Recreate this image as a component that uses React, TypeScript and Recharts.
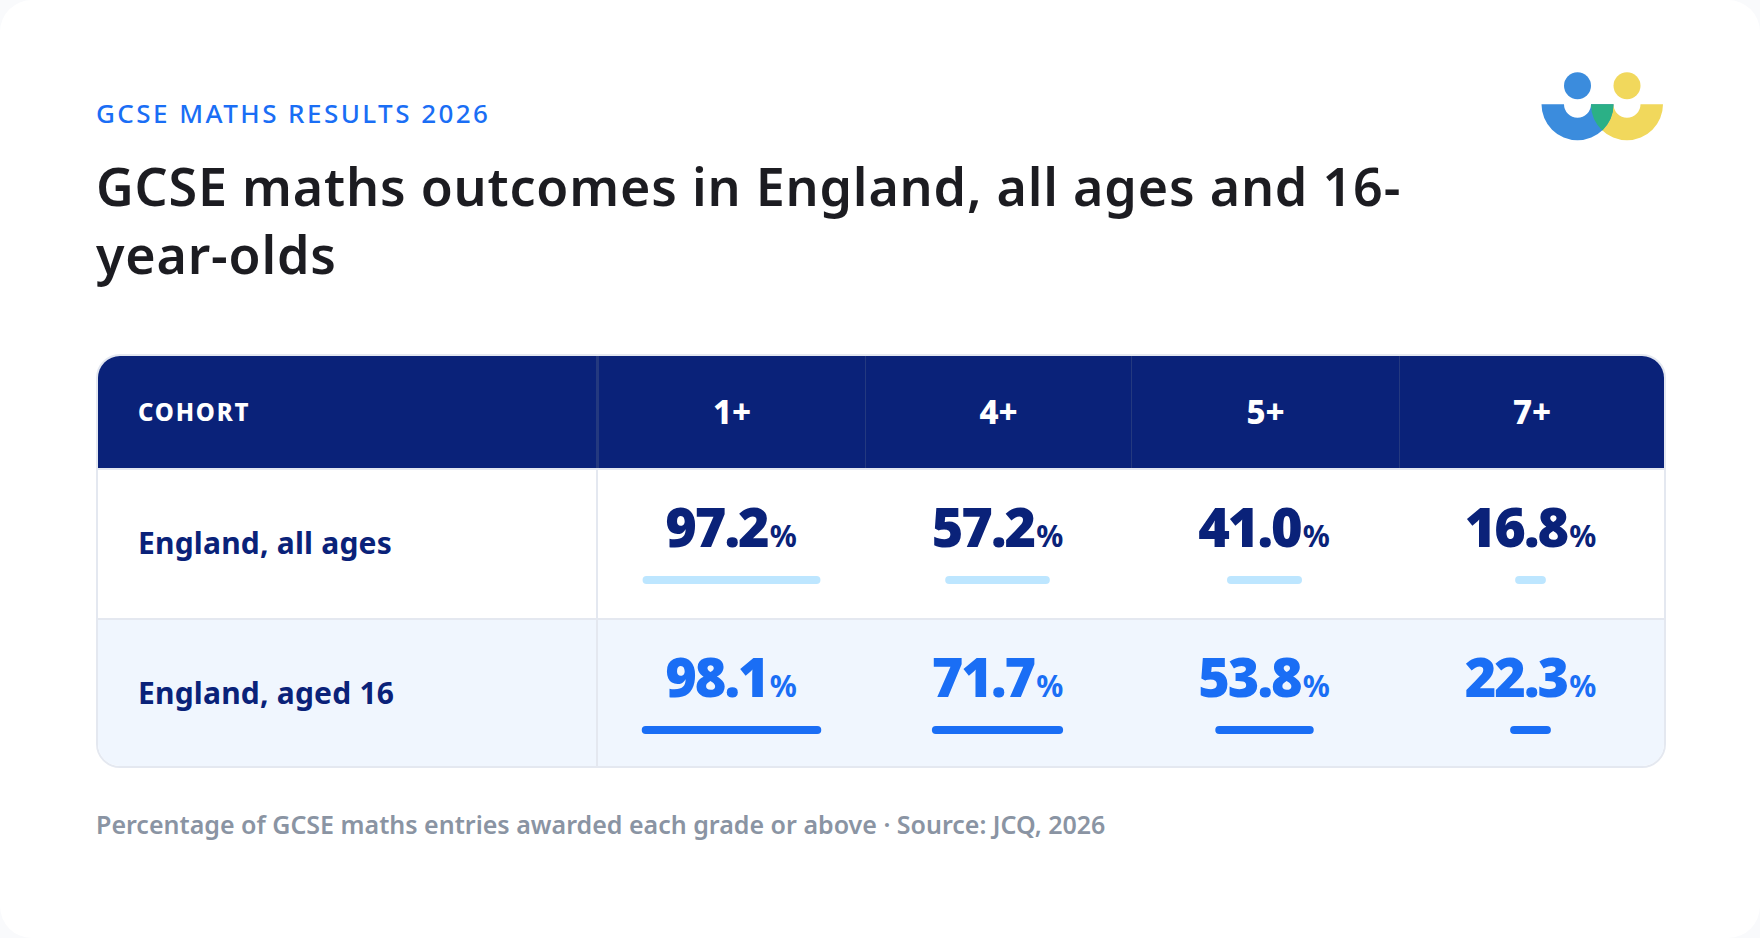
import React from 'react';
import { BarChart, Bar, XAxis, YAxis } from 'recharts';

const grades = ['1+', '4+', '5+', '7+'];
const allAges = [97.2, 57.2, 41.0, 16.8];
const aged16 = [98.1, 71.7, 53.8, 22.3];

const rows = [
  { label: 'England, all ages', values: allAges, text: '#0a2279', bar: '#bde6ff', bg: '#ffffff' },
  { label: 'England, aged 16', values: aged16, text: '#1a6ef5', bar: '#1a6ef5', bg: '#f0f6fe' },
];

const font = '"Noto Sans", Lato, sans-serif';
const border = '#e4e8f0';
const headWidths = [501, 267, 266, 268, 264];
const bodyWidths = [500, 266, 267, 266, 267];

// half-ring of the logo, opening upwards
const halfRing = (cx: number, cy: number, R: number, r: number) =>
  `M${cx - R} ${cy}A${R} ${R} 0 0 0 ${cx + R} ${cy}L${cx + r} ${cy}A${r} ${r} 0 0 1 ${cx - r} ${cy}Z`;

// centred bar, drawn as a range around the middle of a 0-100 axis
const CellBar = ({ value, color }: { value: number; color: string }) => {
  const data = [{ name: 'v', range: [50 - value / 2, 50 + value / 2] }];
  return (
    <BarChart
      width={183}
      height={8}
      layout="vertical"
      data={data}
      margin={{ top: 0, right: 0, bottom: 0, left: 0 }}
      barCategoryGap={0}
    >
      <XAxis type="number" domain={[0, 100]} hide />
      <YAxis type="category" dataKey="name" hide />
      <Bar dataKey="range" fill={color} radius={4} isAnimationActive={false} />
    </BarChart>
  );
};

const App = () => {
  return (
    <div
      style={{
        position: 'absolute',
        left: 0,
        top: 0,
        width: 1760,
        height: 938,
        background: '#f9fafc',
        overflow: 'hidden',
        fontFamily: font,
      }}
    >
      <div style={{ position: 'absolute', left: 0, top: 0, width: 1760, height: 938, background: '#ffffff', borderRadius: 32 }} />

      <div style={{ position: 'absolute', left: 96, top: 96, fontSize: 26, fontWeight: 550, color: '#1a6ef5', letterSpacing: 2.45, lineHeight: '34px', whiteSpace: 'nowrap' }}>
        GCSE MATHS RESULTS 2026
      </div>
      <div style={{ position: 'absolute', left: 96, top: 152, width: 1400, fontSize: 52, fontWeight: 600, letterSpacing: 0.8, color: '#1c1c21', lineHeight: '68px', whiteSpace: 'nowrap' }}>
        GCSE maths outcomes in England, all ages and 16-
        <br />
        year-olds
      </div>

      <svg style={{ position: 'absolute', left: 1530, top: 60 }} width={140} height={90} viewBox="1530 60 140 90">
        <circle cx={1577.5} cy={85.7} r={13.5} fill="#3b8cdd" />
        <circle cx={1627} cy={85.7} r={13.5} fill="#f1d85c" />
        <path d={halfRing(1627, 104.3, 36, 13.5)} fill="#f1d85c" />
        <path d={halfRing(1577.5, 104.3, 36, 13.5)} fill="#3b8cdd" />
        <path d="M1591 104.3L1613.5 104.3A36 36 0 0 1 1602.25 130.4A36 36 0 0 1 1591 104.3Z" fill="#2bb086" />
      </svg>

      <div style={{ position: 'absolute', left: 96, top: 354, width: 1570, height: 414, borderRadius: 24, overflow: 'hidden', boxSizing: 'border-box', border: `2px solid ${border}` }}>
        <div style={{ display: 'flex', height: 112, background: '#0a2279', color: '#ffffff' }}>
          {['COHORT', ...grades].map((h, i) => (
            <div
              key={h}
              style={{
                width: headWidths[i],
                boxSizing: 'border-box',
                display: 'flex',
                alignItems: 'center',
                justifyContent: i === 0 ? 'flex-start' : 'center',
                paddingLeft: i === 0 ? 40 : 0,
                paddingBottom: 2,
                fontSize: i === 0 ? 24 : 33,
                fontWeight: 800,
                letterSpacing: i === 0 ? 1.8 : 0,
                borderRight: i === 0 ? '3px solid #24397f' : i < 4 ? '1.5px solid #24397f' : 'none',
              }}
            >
              {h}
            </div>
          ))}
        </div>
        {rows.map((row, r) => (
          <div key={row.label} style={{ display: 'flex', height: r === 0 ? 152 : 146, background: row.bg, borderTop: r === 0 ? `2px solid ${border}` : 'none', borderBottom: r === 0 ? `2px solid ${border}` : 'none', boxSizing: 'border-box' }}>
            <div style={{ width: bodyWidths[0], boxSizing: 'border-box', display: 'flex', alignItems: 'center', paddingLeft: 40, paddingBottom: r === 0 ? 3 : 1, fontSize: 30, fontWeight: 700, letterSpacing: 0.2, color: '#0a2279', borderRight: `2px solid ${border}` }}>
              {row.label}
            </div>
            {row.values.map((v, i) => (
              <div key={grades[i]} style={{ width: bodyWidths[i + 1], display: 'flex', flexDirection: 'column', alignItems: 'center', paddingTop: 25 }}>
                <div style={{ height: 81, color: row.text, fontSize: 54, fontWeight: 900, letterSpacing: -2, lineHeight: '62px', whiteSpace: 'nowrap' }}>
                  {v.toFixed(1)}
                  <span style={{ fontSize: 30, fontWeight: 700, letterSpacing: 0, marginLeft: 2 }}>%</span>
                </div>
                <CellBar value={v} color={row.bar} />
              </div>
            ))}
          </div>
        ))}
      </div>

      <div style={{ position: 'absolute', left: 96, top: 807, fontSize: 25, fontWeight: 600, color: '#8a94a3', lineHeight: '34px', whiteSpace: 'nowrap' }}>
        Percentage of GCSE maths entries awarded each grade or above · Source: JCQ, 2026
      </div>
    </div>
  );
};

export default App;
